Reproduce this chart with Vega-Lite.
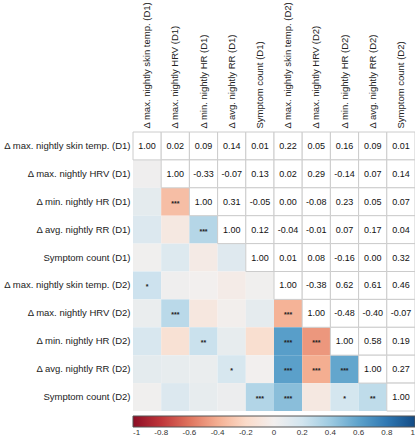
{
  "$schema": "https://vega.github.io/schema/vega-lite/v6.json",
  "width": 282,
  "height": 279,
  "padding": {"left": 3, "top": 1, "right": 2, "bottom": 0},
  "config": {
    "view": {"stroke": null},
    "font": "Liberation Sans",
    "locale": {"number": {"decimal": ".", "thousands": ",", "grouping": [3], "currency": ["$", ""], "minus": "-"}}
  },
  "data": {"values": [
    {"row": "Δ max. nightly skin temp. (D1)", "col": "Δ max. nightly skin temp. (D1)", "r": 1.00, "part": "upper"},
    {"row": "Δ max. nightly skin temp. (D1)", "col": "Δ max. nightly HRV (D1)", "r": 0.02, "part": "upper"},
    {"row": "Δ max. nightly skin temp. (D1)", "col": "Δ min. nightly HR (D1)", "r": 0.09, "part": "upper"},
    {"row": "Δ max. nightly skin temp. (D1)", "col": "Δ avg. nightly RR (D1)", "r": 0.14, "part": "upper"},
    {"row": "Δ max. nightly skin temp. (D1)", "col": "Symptom count (D1)", "r": 0.01, "part": "upper"},
    {"row": "Δ max. nightly skin temp. (D1)", "col": "Δ max. nightly skin temp. (D2)", "r": 0.22, "part": "upper"},
    {"row": "Δ max. nightly skin temp. (D1)", "col": "Δ max. nightly HRV (D2)", "r": 0.05, "part": "upper"},
    {"row": "Δ max. nightly skin temp. (D1)", "col": "Δ min. nightly HR (D2)", "r": 0.16, "part": "upper"},
    {"row": "Δ max. nightly skin temp. (D1)", "col": "Δ avg. nightly RR (D2)", "r": 0.09, "part": "upper"},
    {"row": "Δ max. nightly skin temp. (D1)", "col": "Symptom count (D2)", "r": 0.01, "part": "upper"},
    {"row": "Δ max. nightly HRV (D1)", "col": "Δ max. nightly HRV (D1)", "r": 1.00, "part": "upper"},
    {"row": "Δ max. nightly HRV (D1)", "col": "Δ min. nightly HR (D1)", "r": -0.33, "part": "upper"},
    {"row": "Δ max. nightly HRV (D1)", "col": "Δ avg. nightly RR (D1)", "r": -0.07, "part": "upper"},
    {"row": "Δ max. nightly HRV (D1)", "col": "Symptom count (D1)", "r": 0.13, "part": "upper"},
    {"row": "Δ max. nightly HRV (D1)", "col": "Δ max. nightly skin temp. (D2)", "r": 0.02, "part": "upper"},
    {"row": "Δ max. nightly HRV (D1)", "col": "Δ max. nightly HRV (D2)", "r": 0.29, "part": "upper"},
    {"row": "Δ max. nightly HRV (D1)", "col": "Δ min. nightly HR (D2)", "r": -0.14, "part": "upper"},
    {"row": "Δ max. nightly HRV (D1)", "col": "Δ avg. nightly RR (D2)", "r": 0.07, "part": "upper"},
    {"row": "Δ max. nightly HRV (D1)", "col": "Symptom count (D2)", "r": 0.14, "part": "upper"},
    {"row": "Δ min. nightly HR (D1)", "col": "Δ min. nightly HR (D1)", "r": 1.00, "part": "upper"},
    {"row": "Δ min. nightly HR (D1)", "col": "Δ avg. nightly RR (D1)", "r": 0.31, "part": "upper"},
    {"row": "Δ min. nightly HR (D1)", "col": "Symptom count (D1)", "r": -0.05, "part": "upper"},
    {"row": "Δ min. nightly HR (D1)", "col": "Δ max. nightly skin temp. (D2)", "r": 0.00, "part": "upper"},
    {"row": "Δ min. nightly HR (D1)", "col": "Δ max. nightly HRV (D2)", "r": -0.08, "part": "upper"},
    {"row": "Δ min. nightly HR (D1)", "col": "Δ min. nightly HR (D2)", "r": 0.23, "part": "upper"},
    {"row": "Δ min. nightly HR (D1)", "col": "Δ avg. nightly RR (D2)", "r": 0.05, "part": "upper"},
    {"row": "Δ min. nightly HR (D1)", "col": "Symptom count (D2)", "r": 0.07, "part": "upper"},
    {"row": "Δ avg. nightly RR (D1)", "col": "Δ avg. nightly RR (D1)", "r": 1.00, "part": "upper"},
    {"row": "Δ avg. nightly RR (D1)", "col": "Symptom count (D1)", "r": 0.12, "part": "upper"},
    {"row": "Δ avg. nightly RR (D1)", "col": "Δ max. nightly skin temp. (D2)", "r": -0.04, "part": "upper"},
    {"row": "Δ avg. nightly RR (D1)", "col": "Δ max. nightly HRV (D2)", "r": -0.01, "part": "upper"},
    {"row": "Δ avg. nightly RR (D1)", "col": "Δ min. nightly HR (D2)", "r": 0.07, "part": "upper"},
    {"row": "Δ avg. nightly RR (D1)", "col": "Δ avg. nightly RR (D2)", "r": 0.17, "part": "upper"},
    {"row": "Δ avg. nightly RR (D1)", "col": "Symptom count (D2)", "r": 0.04, "part": "upper"},
    {"row": "Symptom count (D1)", "col": "Symptom count (D1)", "r": 1.00, "part": "upper"},
    {"row": "Symptom count (D1)", "col": "Δ max. nightly skin temp. (D2)", "r": 0.01, "part": "upper"},
    {"row": "Symptom count (D1)", "col": "Δ max. nightly HRV (D2)", "r": 0.08, "part": "upper"},
    {"row": "Symptom count (D1)", "col": "Δ min. nightly HR (D2)", "r": -0.16, "part": "upper"},
    {"row": "Symptom count (D1)", "col": "Δ avg. nightly RR (D2)", "r": 0.00, "part": "upper"},
    {"row": "Symptom count (D1)", "col": "Symptom count (D2)", "r": 0.32, "part": "upper"},
    {"row": "Δ max. nightly skin temp. (D2)", "col": "Δ max. nightly skin temp. (D2)", "r": 1.00, "part": "upper"},
    {"row": "Δ max. nightly skin temp. (D2)", "col": "Δ max. nightly HRV (D2)", "r": -0.38, "part": "upper"},
    {"row": "Δ max. nightly skin temp. (D2)", "col": "Δ min. nightly HR (D2)", "r": 0.62, "part": "upper"},
    {"row": "Δ max. nightly skin temp. (D2)", "col": "Δ avg. nightly RR (D2)", "r": 0.61, "part": "upper"},
    {"row": "Δ max. nightly skin temp. (D2)", "col": "Symptom count (D2)", "r": 0.46, "part": "upper"},
    {"row": "Δ max. nightly HRV (D2)", "col": "Δ max. nightly HRV (D2)", "r": 1.00, "part": "upper"},
    {"row": "Δ max. nightly HRV (D2)", "col": "Δ min. nightly HR (D2)", "r": -0.48, "part": "upper"},
    {"row": "Δ max. nightly HRV (D2)", "col": "Δ avg. nightly RR (D2)", "r": -0.40, "part": "upper"},
    {"row": "Δ max. nightly HRV (D2)", "col": "Symptom count (D2)", "r": -0.07, "part": "upper"},
    {"row": "Δ min. nightly HR (D2)", "col": "Δ min. nightly HR (D2)", "r": 1.00, "part": "upper"},
    {"row": "Δ min. nightly HR (D2)", "col": "Δ avg. nightly RR (D2)", "r": 0.58, "part": "upper"},
    {"row": "Δ min. nightly HR (D2)", "col": "Symptom count (D2)", "r": 0.19, "part": "upper"},
    {"row": "Δ avg. nightly RR (D2)", "col": "Δ avg. nightly RR (D2)", "r": 1.00, "part": "upper"},
    {"row": "Δ avg. nightly RR (D2)", "col": "Symptom count (D2)", "r": 0.27, "part": "upper"},
    {"row": "Symptom count (D2)", "col": "Symptom count (D2)", "r": 1.00, "part": "upper"},

    {"row": "Δ max. nightly HRV (D1)", "col": "Δ max. nightly skin temp. (D1)", "r": 0.02, "part": "lower", "sig": ""},
    {"row": "Δ min. nightly HR (D1)", "col": "Δ max. nightly skin temp. (D1)", "r": 0.09, "part": "lower", "sig": ""},
    {"row": "Δ min. nightly HR (D1)", "col": "Δ max. nightly HRV (D1)", "r": -0.33, "part": "lower", "sig": "***"},
    {"row": "Δ avg. nightly RR (D1)", "col": "Δ max. nightly skin temp. (D1)", "r": 0.14, "part": "lower", "sig": ""},
    {"row": "Δ avg. nightly RR (D1)", "col": "Δ max. nightly HRV (D1)", "r": -0.07, "part": "lower", "sig": ""},
    {"row": "Δ avg. nightly RR (D1)", "col": "Δ min. nightly HR (D1)", "r": 0.31, "part": "lower", "sig": "***"},
    {"row": "Symptom count (D1)", "col": "Δ max. nightly skin temp. (D1)", "r": 0.01, "part": "lower", "sig": ""},
    {"row": "Symptom count (D1)", "col": "Δ max. nightly HRV (D1)", "r": 0.13, "part": "lower", "sig": ""},
    {"row": "Symptom count (D1)", "col": "Δ min. nightly HR (D1)", "r": -0.05, "part": "lower", "sig": ""},
    {"row": "Symptom count (D1)", "col": "Δ avg. nightly RR (D1)", "r": 0.12, "part": "lower", "sig": ""},
    {"row": "Δ max. nightly skin temp. (D2)", "col": "Δ max. nightly skin temp. (D1)", "r": 0.22, "part": "lower", "sig": "*"},
    {"row": "Δ max. nightly skin temp. (D2)", "col": "Δ max. nightly HRV (D1)", "r": 0.02, "part": "lower", "sig": ""},
    {"row": "Δ max. nightly skin temp. (D2)", "col": "Δ min. nightly HR (D1)", "r": 0.00, "part": "lower", "sig": ""},
    {"row": "Δ max. nightly skin temp. (D2)", "col": "Δ avg. nightly RR (D1)", "r": -0.04, "part": "lower", "sig": ""},
    {"row": "Δ max. nightly skin temp. (D2)", "col": "Symptom count (D1)", "r": 0.01, "part": "lower", "sig": ""},
    {"row": "Δ max. nightly HRV (D2)", "col": "Δ max. nightly skin temp. (D1)", "r": 0.05, "part": "lower", "sig": ""},
    {"row": "Δ max. nightly HRV (D2)", "col": "Δ max. nightly HRV (D1)", "r": 0.29, "part": "lower", "sig": "***"},
    {"row": "Δ max. nightly HRV (D2)", "col": "Δ min. nightly HR (D1)", "r": -0.08, "part": "lower", "sig": ""},
    {"row": "Δ max. nightly HRV (D2)", "col": "Δ avg. nightly RR (D1)", "r": -0.01, "part": "lower", "sig": ""},
    {"row": "Δ max. nightly HRV (D2)", "col": "Symptom count (D1)", "r": 0.08, "part": "lower", "sig": ""},
    {"row": "Δ max. nightly HRV (D2)", "col": "Δ max. nightly skin temp. (D2)", "r": -0.38, "part": "lower", "sig": "***"},
    {"row": "Δ min. nightly HR (D2)", "col": "Δ max. nightly skin temp. (D1)", "r": 0.16, "part": "lower", "sig": ""},
    {"row": "Δ min. nightly HR (D2)", "col": "Δ max. nightly HRV (D1)", "r": -0.14, "part": "lower", "sig": ""},
    {"row": "Δ min. nightly HR (D2)", "col": "Δ min. nightly HR (D1)", "r": 0.23, "part": "lower", "sig": "**"},
    {"row": "Δ min. nightly HR (D2)", "col": "Δ avg. nightly RR (D1)", "r": 0.07, "part": "lower", "sig": ""},
    {"row": "Δ min. nightly HR (D2)", "col": "Symptom count (D1)", "r": -0.16, "part": "lower", "sig": ""},
    {"row": "Δ min. nightly HR (D2)", "col": "Δ max. nightly skin temp. (D2)", "r": 0.62, "part": "lower", "sig": "***"},
    {"row": "Δ min. nightly HR (D2)", "col": "Δ max. nightly HRV (D2)", "r": -0.48, "part": "lower", "sig": "***"},
    {"row": "Δ avg. nightly RR (D2)", "col": "Δ max. nightly skin temp. (D1)", "r": 0.09, "part": "lower", "sig": ""},
    {"row": "Δ avg. nightly RR (D2)", "col": "Δ max. nightly HRV (D1)", "r": 0.07, "part": "lower", "sig": ""},
    {"row": "Δ avg. nightly RR (D2)", "col": "Δ min. nightly HR (D1)", "r": 0.05, "part": "lower", "sig": ""},
    {"row": "Δ avg. nightly RR (D2)", "col": "Δ avg. nightly RR (D1)", "r": 0.17, "part": "lower", "sig": "*"},
    {"row": "Δ avg. nightly RR (D2)", "col": "Symptom count (D1)", "r": 0.00, "part": "lower", "sig": ""},
    {"row": "Δ avg. nightly RR (D2)", "col": "Δ max. nightly skin temp. (D2)", "r": 0.61, "part": "lower", "sig": "***"},
    {"row": "Δ avg. nightly RR (D2)", "col": "Δ max. nightly HRV (D2)", "r": -0.40, "part": "lower", "sig": "***"},
    {"row": "Δ avg. nightly RR (D2)", "col": "Δ min. nightly HR (D2)", "r": 0.58, "part": "lower", "sig": "***"},
    {"row": "Symptom count (D2)", "col": "Δ max. nightly skin temp. (D1)", "r": 0.01, "part": "lower", "sig": ""},
    {"row": "Symptom count (D2)", "col": "Δ max. nightly HRV (D1)", "r": 0.14, "part": "lower", "sig": ""},
    {"row": "Symptom count (D2)", "col": "Δ min. nightly HR (D1)", "r": 0.07, "part": "lower", "sig": ""},
    {"row": "Symptom count (D2)", "col": "Δ avg. nightly RR (D1)", "r": 0.04, "part": "lower", "sig": ""},
    {"row": "Symptom count (D2)", "col": "Symptom count (D1)", "r": 0.32, "part": "lower", "sig": "***"},
    {"row": "Symptom count (D2)", "col": "Δ max. nightly skin temp. (D2)", "r": 0.46, "part": "lower", "sig": "***"},
    {"row": "Symptom count (D2)", "col": "Δ max. nightly HRV (D2)", "r": -0.07, "part": "lower", "sig": ""},
    {"row": "Symptom count (D2)", "col": "Δ min. nightly HR (D2)", "r": 0.19, "part": "lower", "sig": "*"},
    {"row": "Symptom count (D2)", "col": "Δ avg. nightly RR (D2)", "r": 0.27, "part": "lower", "sig": "**"}
  ]},
  "encoding": {
    "x": {
      "field": "col", "type": "nominal",
      "sort": ["Δ max. nightly skin temp. (D1)", "Δ max. nightly HRV (D1)", "Δ min. nightly HR (D1)", "Δ avg. nightly RR (D1)", "Symptom count (D1)", "Δ max. nightly skin temp. (D2)", "Δ max. nightly HRV (D2)", "Δ min. nightly HR (D2)", "Δ avg. nightly RR (D2)", "Symptom count (D2)"],
      "scale": {"paddingInner": 0, "paddingOuter": 0},
      "axis": {"orient": "top", "title": null, "labelAngle": -90, "domain": false, "ticks": false, "labelPadding": 4, "labelFontSize": 9.5, "labelColor": "#222", "labelLimit": 200}
    },
    "y": {
      "field": "row", "type": "nominal",
      "sort": ["Δ max. nightly skin temp. (D1)", "Δ max. nightly HRV (D1)", "Δ min. nightly HR (D1)", "Δ avg. nightly RR (D1)", "Symptom count (D1)", "Δ max. nightly skin temp. (D2)", "Δ max. nightly HRV (D2)", "Δ min. nightly HR (D2)", "Δ avg. nightly RR (D2)", "Symptom count (D2)"],
      "scale": {"paddingInner": 0, "paddingOuter": 0},
      "axis": {"title": null, "domain": false, "ticks": false, "labelPadding": 3, "labelFontSize": 9.5, "labelColor": "#222", "labelLimit": 200}
    }
  },
  "layer": [
    {
      "transform": [{"filter": "datum.part == 'lower'"}],
      "mark": {"type": "rect", "strokeWidth": 0},
      "encoding": {
        "color": {
          "field": "r", "type": "quantitative",
          "scale": {"scheme": "redblue", "domain": [-1, 1]},
          "legend": {
            "orient": "none", "legendX": 0, "legendY": 284, "direction": "horizontal",
            "gradientLength": 282, "gradientThickness": 11, "title": null,
            "values": [-1, -0.8, -0.6, -0.4, -0.2, 0, 0.2, 0.4, 0.6, 0.8, 1],
            "format": "~g", "labelFontSize": 8, "labelColor": "#333", "labelOverlap": false,
            "gradientStrokeColor": "#555", "gradientStrokeWidth": 1
          }
        }
      }
    },
    {
      "transform": [{"filter": "datum.part == 'upper'"}],
      "mark": {"type": "rect", "fill": "white", "stroke": "#cccccc", "strokeWidth": 1}
    },
    {
      "transform": [{"filter": "datum.part == 'upper'"}],
      "mark": {"type": "text", "fontSize": 9, "color": "#111"},
      "encoding": {"text": {"field": "r", "type": "quantitative", "format": ".2f"}}
    },
    {
      "transform": [{"filter": "datum.part == 'lower' && datum.sig != ''"}],
      "mark": {"type": "text", "fontSize": 7, "fontWeight": "bold", "color": "#222", "dy": 2},
      "encoding": {"text": {"field": "sig", "type": "nominal"}}
    }
  ]
}
